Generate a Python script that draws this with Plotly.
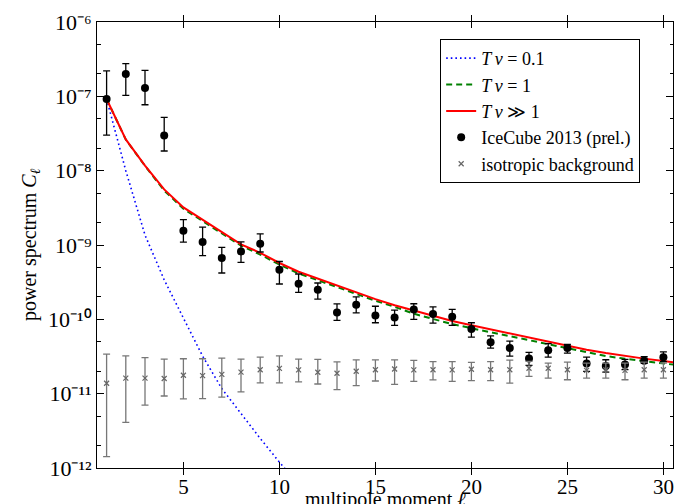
import plotly.graph_objects as go

# multipole moments
ell = list(range(1, 31))
ell_model = list(range(1, 32))
ell_blue = list(range(1, 12))

# model curves
c_tnu_01 = [9.2e-8, 1.0e-8, 1.36e-9, 3.4e-10, 1.04e-10, 3.2e-11, 1.17e-11, 5.4e-12,
            2.5e-12, 1.2e-12, 6.0e-13]
c_tnu_1 = [9.2e-8, 2.62e-8, 1.16e-8, 5.4e-9, 3.07e-9, 2.08e-9, 1.41e-9, 9.8e-10,
           7.45e-10, 5.44e-10, 4.15e-10, 3.35e-10, 2.7e-10, 2.17e-10, 1.78e-10,
           1.47e-10, 1.19e-10, 1.01e-10, 8.65e-11, 7.59e-11, 6.7e-11, 5.88e-11,
           5.17e-11, 4.59e-11, 4.03e-11, 3.54e-11, 3.2e-11, 2.96e-11, 2.74e-11,
           2.56e-11, 2.37e-11]
c_tnu_inf = [9.2e-8, 2.63e-8, 1.17e-8, 5.6e-9, 3.2e-9, 2.17e-9, 1.47e-9, 1.02e-9,
             7.85e-10, 5.73e-10, 4.37e-10, 3.53e-10, 2.84e-10, 2.28e-10, 1.87e-10,
             1.55e-10, 1.31e-10, 1.11e-10, 9.5e-11, 8.34e-11, 7.36e-11, 6.46e-11,
             5.68e-11, 5.04e-11, 4.43e-11, 3.89e-11, 3.52e-11, 3.21e-11, 2.96e-11,
             2.75e-11, 2.55e-11]

# IceCube 2013 (prel.)
ic_val = [9.2e-8, 2.0e-7, 1.29e-7, 2.98e-8, 1.56e-9, 1.1e-9, 6.68e-10, 8.2e-10,
          1.04e-9, 4.66e-10, 3.02e-10, 2.5e-10, 1.24e-10, 1.57e-10, 1.13e-10,
          1.06e-10, 1.36e-10, 1.18e-10, 1.08e-10, 7.4e-11, 4.9e-11, 4.1e-11,
          2.97e-11, 3.85e-11, 4.1e-11, 2.55e-11, 2.35e-11, 2.47e-11, 2.78e-11, 3.1e-11]
ic_hi = [2.2e-7, 2.75e-7, 2.24e-7, 5.2e-8, 2.2e-9, 1.74e-9, 9.3e-10, 1.1e-9,
         1.41e-9, 6.0e-10, 4.07e-10, 3.08e-10, 1.61e-10, 2.0e-10, 1.5e-10,
         1.33e-10, 1.62e-10, 1.47e-10, 1.36e-10, 9.0e-11, 6.0e-11, 5.1e-11,
         3.6e-11, 4.7e-11, 4.6e-11, 3.1e-11, 2.86e-11, 2.9e-11, 3.14e-11, 3.66e-11]
ic_lo = [3.0e-8, 1.03e-7, 7.7e-8, 1.84e-8, 1.09e-9, 7.2e-10, 4.2e-10, 5.85e-10,
         8.05e-10, 2.99e-10, 2.3e-10, 1.87e-10, 9.7e-11, 1.22e-10, 9.0e-11,
         8.3e-11, 1.0e-10, 8.9e-11, 8.3e-11, 5.75e-11, 4.1e-11, 3.2e-11,
         2.4e-11, 3.1e-11, 3.5e-11, 2.0e-11, 1.95e-11, 2.1e-11, 2.56e-11, 2.69e-11]

# isotropic background
iso_val = [1.38e-11, 1.62e-11, 1.62e-11, 1.6e-11, 1.77e-11, 1.75e-11, 1.82e-11,
           1.95e-11, 2.1e-11, 2.19e-11, 2.09e-11, 1.94e-11, 1.88e-11, 2.0e-11,
           2.1e-11, 2.15e-11, 2.09e-11, 2.1e-11, 2.09e-11, 2.13e-11, 2.1e-11,
           2.1e-11, 2.2e-11, 2.2e-11, 2.1e-11, 2.06e-11, 2.1e-11, 2.06e-11, 2.1e-11, 2.1e-11]
iso_hi = [3.4e-11, 3.23e-11, 3.05e-11, 2.92e-11, 2.95e-11, 2.95e-11, 3.0e-11,
          2.92e-11, 3.1e-11, 3.23e-11, 2.92e-11, 2.9e-11, 2.67e-11, 2.85e-11,
          2.85e-11, 2.85e-11, 2.8e-11, 2.7e-11, 2.7e-11, 2.64e-11, 2.7e-11,
          2.83e-11, 2.72e-11, 2.58e-11, 2.65e-11, 2.58e-11, 2.58e-11, 2.58e-11, 2.65e-11, 2.58e-11]
iso_lo = [1.42e-12, 4.1e-12, 7.0e-12, 9.3e-12, 8.5e-12, 8.6e-12, 9.0e-12,
          1.06e-11, 1.4e-11, 1.4e-11, 1.44e-11, 1.35e-11, 1.13e-11, 1.28e-11,
          1.48e-11, 1.33e-11, 1.46e-11, 1.53e-11, 1.46e-11, 1.5e-11, 1.5e-11,
          1.39e-11, 1.71e-11, 1.62e-11, 1.54e-11, 1.62e-11, 1.62e-11, 1.54e-11, 1.62e-11, 1.62e-11]

y_tickvals = [1e-12, 1e-11, 1e-10, 1e-9, 1e-8, 1e-7, 1e-6]
y_ticktext = ["10\u207b\u00b9\u00b2", "10\u207b\u00b9\u00b9", "10\u207b\u00b9\u2070",
              "10\u207b\u2079", "10\u207b\u2078", "10\u207b\u2077", "10\u207b\u2076"]
x_tickvals = [5, 10, 15, 20, 25, 30]
x_title = "multipole moment <i>\u2113</i>"
y_title = "power spectrum <i>C</i><sub><i>\u2113</i></sub>"

FONT = "Liberation Serif"
Y_RANGE = [-12, -6]

fig = go.Figure()
fig.add_trace(go.Scatter(x=ell_blue, y=c_tnu_01, mode="lines",
                         line=dict(color="#0000ff", width=1.6, dash="1.6px,3px"),
                         name="<i>T\u2009\u03bd</i> = 0.1"))
fig.add_trace(go.Scatter(x=ell_model, y=c_tnu_1, mode="lines",
                         line=dict(color="#008000", width=2, dash="6px,4px"),
                         name="<i>T\u2009\u03bd</i> = 1"))
fig.add_trace(go.Scatter(x=ell_model, y=c_tnu_inf, mode="lines",
                         line=dict(color="#ff0000", width=2),
                         name="<i>T\u2009\u03bd</i> \u226b 1"))
fig.add_trace(go.Scatter(
    x=ell, y=ic_val, mode="markers",
    marker=dict(color="black", size=8, symbol="circle"),
    error_y=dict(type="data", symmetric=False,
                 array=[h - v for h, v in zip(ic_hi, ic_val)],
                 arrayminus=[v - l for l, v in zip(ic_lo, ic_val)],
                 color="black", thickness=1.3, width=3.5),
    name="IceCube 2013 (prel.)"))
fig.add_trace(go.Scatter(
    x=ell, y=iso_val, mode="markers",
    marker=dict(color="#666666", size=5, symbol="x-thin", line=dict(color="#666666", width=1.2)),
    error_y=dict(type="data", symmetric=False,
                 array=[h - v for h, v in zip(iso_hi, iso_val)],
                 arrayminus=[v - l for l, v in zip(iso_lo, iso_val)],
                 color="#777777", thickness=1.3, width=3.5),
    name="isotropic background"))
# invisible trace to show the right-hand mirrored log axis with minor ticks
fig.add_trace(go.Scatter(x=[None], y=[None], yaxis="y2", showlegend=False, hoverinfo="skip"))

fig.update_layout(
    width=688, height=504,
    margin=dict(l=89, r=23, t=14, b=44, autoexpand=False),
    paper_bgcolor="white", plot_bgcolor="white",
    font=dict(family=FONT, size=20, color="black"),
    showlegend=True,
    legend=dict(x=0.943, y=0.962, xanchor="right", yanchor="top",
                bgcolor="white", bordercolor="black", borderwidth=1,
                font=dict(family=FONT, size=18), tracegroupgap=0,
                itemwidth=30),
    xaxis=dict(range=[0.5, 30.5], tickvals=x_tickvals, ticks="inside", ticklen=6,
               tickcolor="black", showline=True, linecolor="black", linewidth=1,
               mirror="allticks", showgrid=False, zeroline=False, automargin=False,
               tickfont=dict(family=FONT, size=21)),
    yaxis=dict(type="log", range=Y_RANGE, tickvals=y_tickvals, ticktext=y_ticktext,
               ticks="inside", ticklen=7, tickcolor="black", showline=True,
               linecolor="black", linewidth=1, mirror=True, showgrid=False,
               zeroline=False, tickfont=dict(family=FONT, size=22), automargin=False,
               minor=dict(ticks="inside", ticklen=3.5, tickcolor="black", showgrid=False)),
    yaxis2=dict(type="log", range=Y_RANGE, overlaying="y", side="right",
                tickvals=y_tickvals, ticks="inside", ticklen=7, tickcolor="black",
                showticklabels=False, showline=False, showgrid=False, zeroline=False,
                automargin=False,
                minor=dict(ticks="inside", ticklen=3.5, tickcolor="black", showgrid=False)),
    annotations=[
        dict(text=x_title, xref="paper", yref="paper", x=0.5, y=0,
             xanchor="center", yanchor="top", yshift=-18, showarrow=False,
             font=dict(family=FONT, size=20)),
        dict(text=y_title, xref="paper", yref="paper", x=0, y=0.5, textangle=-90,
             xanchor="center", yanchor="middle", xshift=-67, showarrow=False,
             font=dict(family=FONT, size=20)),
    ],
)

fig.write_html("out.html")
